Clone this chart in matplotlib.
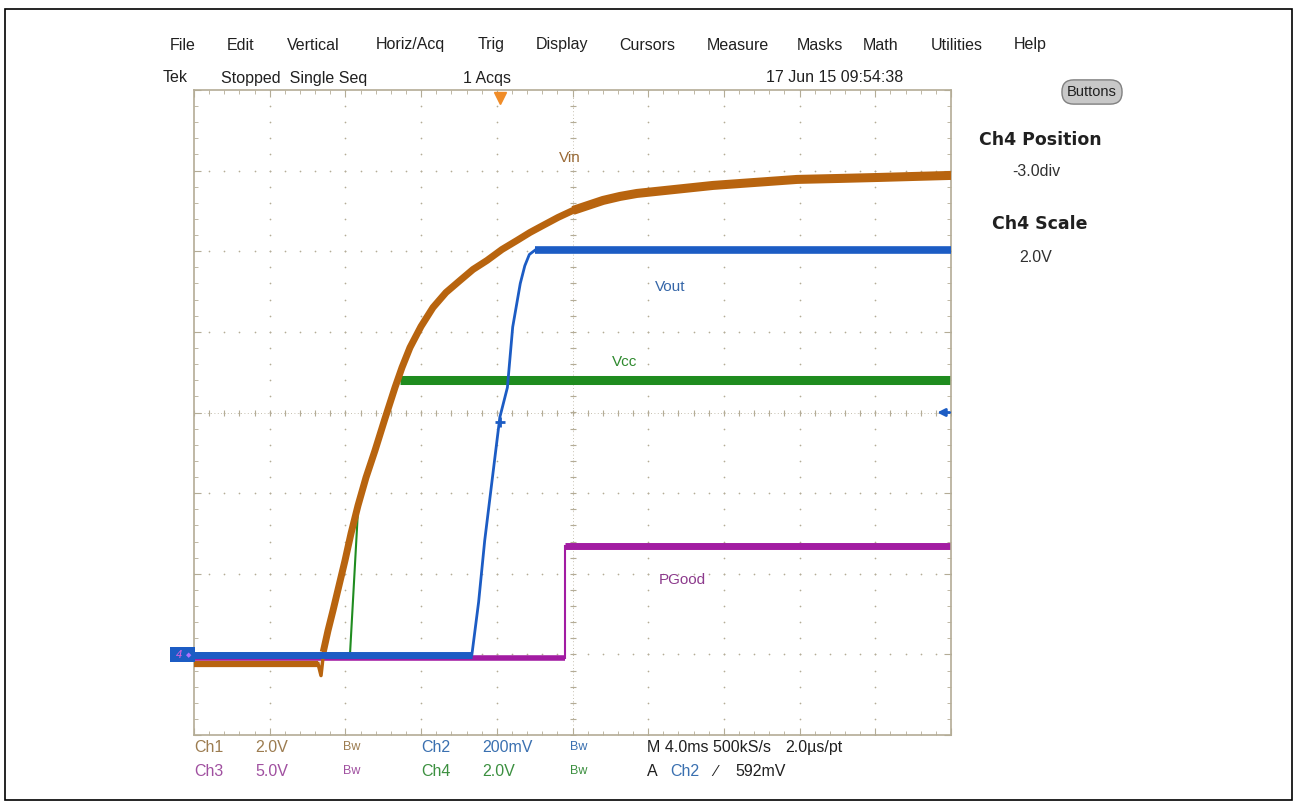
import numpy as np
import matplotlib.pyplot as plt
from matplotlib import font_manager
from matplotlib.patches import Rectangle

# trace data, in graticule divisions (x: 0..10, y: -4..4)
vin_px_x = [194, 318, 321, 324, 328, 333, 339, 345, 351, 358, 366, 375, 385, 395, 402,
            410, 421, 433, 446, 460, 473, 487, 502, 517, 530, 543, 558, 573, 588, 603,
            620, 637, 675, 713, 755, 797, 840, 880, 915, 951]
vin_px_y = [663, 663, 675, 648, 630, 610, 585, 560, 533, 505, 477, 450, 418, 387, 367,
            347, 326, 307, 292, 280, 269, 260, 249, 240, 232, 225, 217, 210, 205, 200,
            196, 193, 189, 185, 182, 179, 178, 177, 176, 175]
vin_x = [(p - 194) / 75.7 for p in vin_px_x]
vin_y = [(412 - p) / 80.6 for p in vin_px_y]

vout_x = [0, 3.67, 3.76, 3.84, 4.04, 4.14, 4.21, 4.31, 4.37, 4.43, 4.50, 10]
vout_y = [-3.01, -3.01, -2.35, -1.59, -0.06, 0.31, 1.06, 1.60, 1.82, 1.96, 2.01, 2.01]

vcc_x = [0, 2.06, 2.17, 2.39, 2.66, 2.72, 10]
vcc_y = [-3.01, -3.01, -1.15, -0.47, 0.31, 0.40, 0.40]

pgood_x = [0, 4.90, 4.90, 10]
pgood_y = [-3.05, -3.05, -1.65, -1.65]

labels = ["Vin", "Vout", "Vcc", "PGood"]
label_x = [4.97, 6.29, 5.69, 6.45]
label_y = [3.16, 1.56, 0.63, -2.08]

menu = ["File", "Edit", "Vertical", "Horiz/Acq", "Trig", "Display", "Cursors",
        "Measure", "Masks", "Math", "Utilities", "Help"]
menu_px = [183, 241, 313, 410, 491, 562, 647, 738, 820, 881, 957, 1030]

BROWN = "#b8640f"
BLUE = "#1c5cc4"
GREEN = "#1f8c1f"
MAGENTA = "#a21ca2"
GRAT = "#b4ac96"

W, H = 1297, 805
fig = plt.figure(figsize=(W / 100, H / 100), dpi=100)

names = {f.name for f in font_manager.fontManager.ttflist}
narrow = "Liberation Sans Narrow" if "Liberation Sans Narrow" in names else "Liberation Sans"


def ft(x, y, s, **kw):
    kw.setdefault("va", "center")
    kw.setdefault("family", narrow)
    fig.text(x / W, 1 - y / H, s, **kw)


ax = fig.add_axes([194 / W, 1 - 735 / H, (951 - 194) / W, (735 - 90) / H])
ax.set_xlim(0, 10)
ax.set_ylim(-4, 4)

# graticule
for s in ax.spines.values():
    s.set_color(GRAT)
    s.set_linewidth(1.2)
ax.set_xticks(np.arange(0, 10.01, 1))
ax.set_yticks(np.arange(-4, 4.01, 1))
ax.set_xticks(np.arange(0, 10.01, 0.2), minor=True)
ax.set_yticks(np.arange(-4, 4.01, 0.2), minor=True)
ax.tick_params(which="both", direction="in", top=True, right=True,
               labelbottom=False, labelleft=False, color=GRAT)
ax.tick_params(which="major", length=5)
ax.tick_params(which="minor", length=3)

fine_x = np.arange(0, 10.01, 0.2)
fine_y = np.arange(-4, 4.01, 0.2)
for gx in range(1, 10):
    ax.scatter(np.full_like(fine_y, gx), fine_y, s=1.5, color=GRAT, lw=0, zorder=0)
for gy in range(-3, 4):
    ax.scatter(fine_x, np.full_like(fine_x, gy), s=1.5, color=GRAT, lw=0, zorder=0)
ax.scatter(np.full_like(fine_y, 5), fine_y, marker="_", s=25, color=GRAT, lw=0.8, zorder=0)
ax.scatter(fine_x, np.zeros_like(fine_x), marker="|", s=25, color=GRAT, lw=0.8, zorder=0)
ax.plot([5, 5], [-4, 4], color=GRAT, lw=0.6, ls=(0, (1, 3)), zorder=0)
ax.plot([0, 10], [0, 0], color=GRAT, lw=0.6, ls=(0, (1, 3)), zorder=0)

# traces
ax.plot(pgood_x[:2], pgood_y[:2], color=MAGENTA, lw=4, zorder=1, solid_capstyle="butt")
ax.plot(pgood_x[1:3], pgood_y[1:3], color=MAGENTA, lw=1.5, zorder=1)
ax.plot(pgood_x[2:], pgood_y[2:], color=MAGENTA, lw=5, zorder=1, solid_capstyle="butt")

ax.plot(vcc_x[:2], vcc_y[:2], color=GREEN, lw=4, zorder=2, solid_capstyle="butt")
ax.plot(vcc_x[1:6], vcc_y[1:6], color=GREEN, lw=1.5, zorder=2)
ax.plot(vcc_x[5:], vcc_y[5:], color=GREEN, lw=6.5, zorder=2, solid_capstyle="butt")

ax.plot(vin_x[:2], vin_y[:2], color=BROWN, lw=4.5, zorder=3, solid_capstyle="butt")
ax.plot(vin_x[1:4], vin_y[1:4], color=BROWN, lw=2.5, zorder=3)
ax.plot(vin_x[3:], vin_y[3:], color=BROWN, lw=5, zorder=3, solid_joinstyle="round")
ax.plot(vin_x[27:], vin_y[27:], color=BROWN, lw=6.5, zorder=3, solid_capstyle="butt")

ax.plot(vout_x[:2], vout_y[:2], color=BLUE, lw=5, zorder=4, solid_capstyle="butt")
ax.plot(vout_x[1:11], vout_y[1:11], color=BLUE, lw=2, zorder=4, solid_joinstyle="round")
ax.plot(vout_x[10:], vout_y[10:], color=BLUE, lw=5.5, zorder=4, solid_capstyle="butt")
ax.plot(4.04, -0.12, marker="+", ms=7, mew=2, color=BLUE, zorder=5)

label_colors = ["#9a6a36", "#3566a8", "#2f8a2f", "#8c3a8c"]
for lx, ly, lt, lc in zip(label_x, label_y, labels, label_colors):
    ax.text(lx, ly, lt, color=lc, fontsize=11, family=narrow, ha="center", va="center")

# trigger markers
ax.plot(4.04, 3.9, marker="v", ms=9, color="#f08c28", mec="#f08c28", clip_on=False, zorder=6)
ax.annotate("", xy=(9.78, 0), xytext=(10.02, 0),
            arrowprops=dict(arrowstyle="-|>", color=BLUE, lw=2, mutation_scale=11),
            annotation_clip=False, zorder=6)

# ground marker
fig.patches.append(Rectangle((170 / W, 1 - 662 / H), 25 / W, 15 / H, transform=fig.transFigure,
                             facecolor=BLUE, edgecolor="none"))
ft(179, 655, "4", color="#e060e0", fontsize=8, ha="center", style="italic")
ft(189, 655, "\u25c6", color="#b070ff", fontsize=5, ha="center", family="DejaVu Sans")

# frame around whole picture
fig.patches.append(Rectangle((5 / W, 1 - 800 / H), 1287 / W, 791 / H, transform=fig.transFigure,
                             fill=False, edgecolor="black", lw=1.2))

# menu bar
for m, mx in zip(menu, menu_px):
    ft(mx, 45, m, ha="center", fontsize=11.5, family="Liberation Sans", color="#202020")

ft(175, 78, "Tek", ha="center", fontsize=11.5, color="#202020")
ft(221, 78, "Stopped  Single Seq", ha="left", fontsize=11.5, color="#202020")
ft(487, 78, "1 Acqs", ha="center", fontsize=11.5, color="#202020")
ft(835, 78, "17 Jun 15 09:54:38", ha="center", fontsize=11.5, color="#202020")

fig.text(1092 / W, 1 - 92 / H, "Buttons", ha="center", va="center", fontsize=10.5,
         family=narrow, color="#202020",
         bbox=dict(boxstyle="round,pad=0.35,rounding_size=0.8", facecolor="#c8c8c8",
                   edgecolor="#808080"))

# right panel
ft(1040, 140, "Ch4 Position", ha="center", fontsize=12.5, weight="bold",
   family="DejaVu Sans", color="#202020")
ft(1036, 172, "-3.0div", ha="center", fontsize=11.5, color="#303030")
ft(1040, 224, "Ch4 Scale", ha="center", fontsize=12.5, weight="bold",
   family="DejaVu Sans", color="#202020")
ft(1036, 258, "2.0V", ha="center", fontsize=11.5, color="#303030")

# bottom readout
TAN = "#9c7c50"
CH2C = "#3a70b0"
CH3C = "#a050a0"
CH4C = "#3c9040"
r1, r2 = 747, 771
ft(194, r1, "Ch1", color=TAN, fontsize=11.5)
ft(255, r1, "2.0V", color=TAN, fontsize=11.5)
ft(343, r1, "Bw", color=TAN, fontsize=9)
ft(421, r1, "Ch2", color=CH2C, fontsize=11.5)
ft(482, r1, "200mV", color=CH2C, fontsize=11.5)
ft(570, r1, "Bw", color=CH2C, fontsize=9)
ft(647, r1, "M 4.0ms 500kS/s", color="#202020", fontsize=11.5)
ft(785, r1, "2.0\u00b5s/pt", color="#202020", fontsize=11.5)

ft(194, r2, "Ch3", color=CH3C, fontsize=11.5)
ft(255, r2, "5.0V", color=CH3C, fontsize=11.5)
ft(343, r2, "Bw", color=CH3C, fontsize=9)
ft(421, r2, "Ch4", color=CH4C, fontsize=11.5)
ft(482, r2, "2.0V", color=CH4C, fontsize=11.5)
ft(570, r2, "Bw", color=CH4C, fontsize=9)
ft(647, r2, "A", color="#202020", fontsize=11.5)
ft(670, r2, "Ch2", color=CH2C, fontsize=11.5)
ft(714, r2, "\u2215", color="#202020", fontsize=11.5)
ft(735, r2, "592mV", color="#202020", fontsize=11.5)

fig.savefig("out.png", dpi=100)
